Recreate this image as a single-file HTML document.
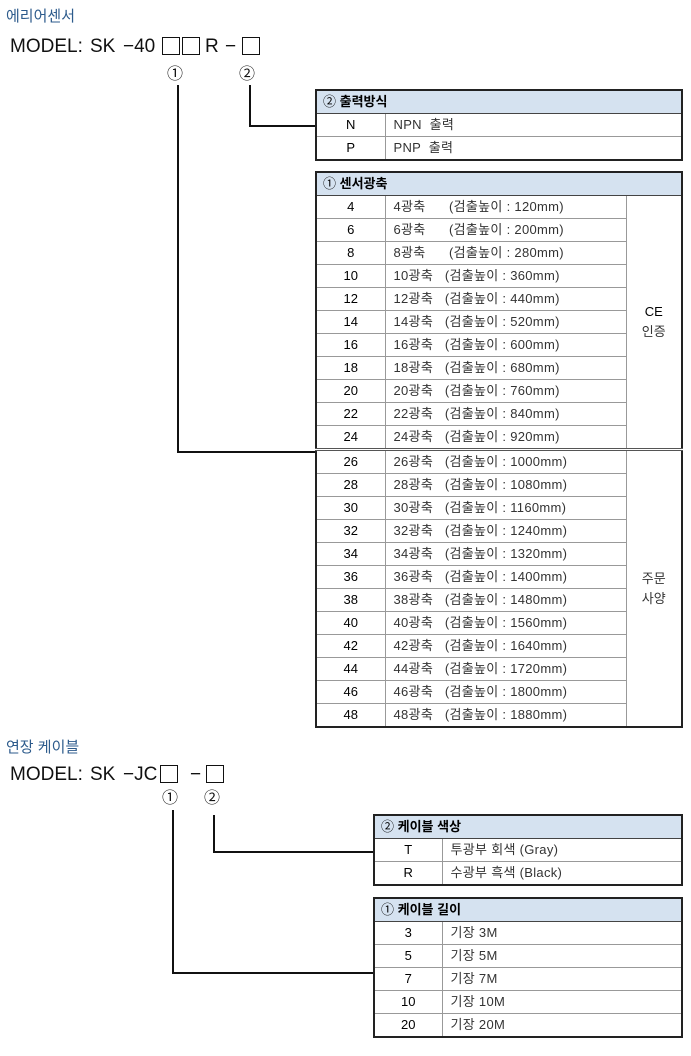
<!DOCTYPE html>
<html><head><meta charset="utf-8"><style>
body{margin:0;width:691px;height:1056px;background:#fff;position:relative;font-family:"Liberation Sans","Noto Sans CJK KR",sans-serif;color:#111;overflow:hidden}
.a{position:absolute}
.t{color:#2d5b8c;font-size:15px}
.m{font-size:19px;white-space:nowrap;position:absolute}
.sq{position:absolute;border:1.5px solid #111;width:16px;height:16px}
.ln{position:absolute;background:#111}
table{position:absolute;border-collapse:collapse;border:2px solid #222;font-size:13px;table-layout:fixed}
td{border:1px solid #999;padding:0;height:22px;line-height:22px;white-space:nowrap;color:#333}
td.c{text-align:center;color:#000}
td.d{padding-left:8px;letter-spacing:0.3px}
tr.h td{background:#d5e2f0;padding-left:6px;border-bottom:1px solid #444;color:#000}
tr.h b{font-weight:bold}
.sep td{border-top:3px double #555}
</style></head><body>
<div class="a t" style="left:6px;top:5px">에리어센서</div>
<div class="m" style="left:10px;top:36px">MODEL:</div>
<div class="m" style="left:90px;top:36px">SK</div>
<div class="m" style="left:123px;top:36px">−40</div>
<div class="sq" style="left:162px;top:37px"></div>
<div class="sq" style="left:182px;top:37px"></div>
<div class="m" style="left:205px;top:36px">R</div>
<div class="m" style="left:225px;top:36px">−</div>
<div class="sq" style="left:242px;top:37px"></div>
<div class="a" style="left:167px;top:60px;font-size:16px">①</div>
<div class="a" style="left:239px;top:60px;font-size:16px">②</div>
<div class="ln" style="left:177px;top:85px;width:2px;height:368px"></div>
<div class="ln" style="left:177px;top:451px;width:138px;height:2px"></div>
<div class="ln" style="left:249px;top:85px;width:2px;height:42px"></div>
<div class="ln" style="left:249px;top:125px;width:66px;height:2px"></div>

<table style="left:315px;top:89px;width:368px">
<colgroup><col style="width:69px"><col></colgroup>
<tr class="h"><td colspan="2">② <b>출력방식</b></td></tr>
<tr><td class="c">N</td><td class="d">NPN &nbsp;출력</td></tr>
<tr><td class="c">P</td><td class="d">PNP &nbsp;출력</td></tr>
</table>

<table style="left:315px;top:171px;width:368px">
<colgroup><col style="width:69px"><col style="width:241px"><col></colgroup>
<tr class="h"><td colspan="3">① <b>센서광축</b></td></tr>
<tr><td class="c">4</td><td class="d">4광축&nbsp;&nbsp;&nbsp;&nbsp;&nbsp; (검출높이 : 120mm)</td><td class="c" rowspan="11" style="line-height:20px">CE<br><span style="color:#333">인증</span></td></tr>
<tr><td class="c">6</td><td class="d">6광축&nbsp;&nbsp;&nbsp;&nbsp;&nbsp; (검출높이 : 200mm)</td></tr>
<tr><td class="c">8</td><td class="d">8광축&nbsp;&nbsp;&nbsp;&nbsp;&nbsp; (검출높이 : 280mm)</td></tr>
<tr><td class="c">10</td><td class="d">10광축&nbsp;&nbsp; (검출높이 : 360mm)</td></tr>
<tr><td class="c">12</td><td class="d">12광축&nbsp;&nbsp; (검출높이 : 440mm)</td></tr>
<tr><td class="c">14</td><td class="d">14광축&nbsp;&nbsp; (검출높이 : 520mm)</td></tr>
<tr><td class="c">16</td><td class="d">16광축&nbsp;&nbsp; (검출높이 : 600mm)</td></tr>
<tr><td class="c">18</td><td class="d">18광축&nbsp;&nbsp; (검출높이 : 680mm)</td></tr>
<tr><td class="c">20</td><td class="d">20광축&nbsp;&nbsp; (검출높이 : 760mm)</td></tr>
<tr><td class="c">22</td><td class="d">22광축&nbsp;&nbsp; (검출높이 : 840mm)</td></tr>
<tr><td class="c">24</td><td class="d">24광축&nbsp;&nbsp; (검출높이 : 920mm)</td></tr>
<tr class="sep"><td class="c">26</td><td class="d">26광축&nbsp;&nbsp; (검출높이 : 1000mm)</td><td class="c" rowspan="12" style="line-height:20px;color:#333">주문<br>사양</td></tr>
<tr><td class="c">28</td><td class="d">28광축&nbsp;&nbsp; (검출높이 : 1080mm)</td></tr>
<tr><td class="c">30</td><td class="d">30광축&nbsp;&nbsp; (검출높이 : 1160mm)</td></tr>
<tr><td class="c">32</td><td class="d">32광축&nbsp;&nbsp; (검출높이 : 1240mm)</td></tr>
<tr><td class="c">34</td><td class="d">34광축&nbsp;&nbsp; (검출높이 : 1320mm)</td></tr>
<tr><td class="c">36</td><td class="d">36광축&nbsp;&nbsp; (검출높이 : 1400mm)</td></tr>
<tr><td class="c">38</td><td class="d">38광축&nbsp;&nbsp; (검출높이 : 1480mm)</td></tr>
<tr><td class="c">40</td><td class="d">40광축&nbsp;&nbsp; (검출높이 : 1560mm)</td></tr>
<tr><td class="c">42</td><td class="d">42광축&nbsp;&nbsp; (검출높이 : 1640mm)</td></tr>
<tr><td class="c">44</td><td class="d">44광축&nbsp;&nbsp; (검출높이 : 1720mm)</td></tr>
<tr><td class="c">46</td><td class="d">46광축&nbsp;&nbsp; (검출높이 : 1800mm)</td></tr>
<tr><td class="c">48</td><td class="d">48광축&nbsp;&nbsp; (검출높이 : 1880mm)</td></tr>
</table>

<div class="a t" style="left:6px;top:736px">연장 케이블</div>
<div class="m" style="left:10px;top:764px">MODEL:</div>
<div class="m" style="left:90px;top:764px">SK</div>
<div class="m" style="left:123px;top:764px">−JC</div>
<div class="sq" style="left:160px;top:765px"></div>
<div class="m" style="left:190px;top:764px">−</div>
<div class="sq" style="left:206px;top:765px"></div>
<div class="a" style="left:162px;top:784px;font-size:16px">①</div>
<div class="a" style="left:204px;top:784px;font-size:16px">②</div>
<div class="ln" style="left:172px;top:810px;width:2px;height:164px"></div>
<div class="ln" style="left:172px;top:972px;width:201px;height:2px"></div>
<div class="ln" style="left:213px;top:815px;width:2px;height:38px"></div>
<div class="ln" style="left:213px;top:851px;width:160px;height:2px"></div>

<table style="left:373px;top:814px;width:310px">
<colgroup><col style="width:68px"><col></colgroup>
<tr class="h"><td colspan="2">② <b>케이블 색상</b></td></tr>
<tr><td class="c">T</td><td class="d">투광부 회색 (Gray)</td></tr>
<tr><td class="c">R</td><td class="d">수광부 흑색 (Black)</td></tr>
</table>

<table style="left:373px;top:897px;width:310px">
<colgroup><col style="width:68px"><col></colgroup>
<tr class="h"><td colspan="2">① <b>케이블 길이</b></td></tr>
<tr><td class="c">3</td><td class="d">기장 3M</td></tr>
<tr><td class="c">5</td><td class="d">기장 5M</td></tr>
<tr><td class="c">7</td><td class="d">기장 7M</td></tr>
<tr><td class="c">10</td><td class="d">기장 10M</td></tr>
<tr><td class="c">20</td><td class="d">기장 20M</td></tr>
</table>
</body></html>
